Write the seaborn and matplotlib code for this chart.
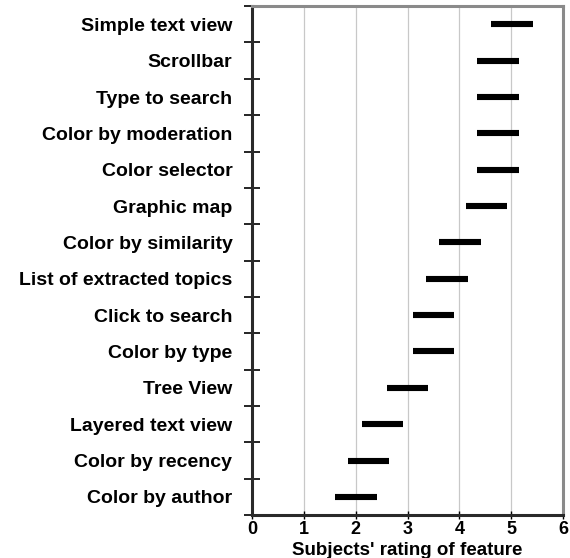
import pandas as pd
import numpy as np
import matplotlib
matplotlib.use("Agg")
import matplotlib.pyplot as plt
import seaborn as sns

# Feature names (top to bottom) and rating ranges
features = [
    "Simple text view",
    "Scrollbar",
    "Type to search",
    "Color by moderation",
    "Color selector",
    "Graphic map",
    "Color by similarity",
    "List of extracted topics",
    "Click to search",
    "Color by type",
    "Tree View",
    "Layered text view",
    "Color by recency",
    "Color by author",
]
range_low = [4.60, 4.34, 4.34, 4.34, 4.34, 4.12, 3.60, 3.35, 3.10, 3.10, 2.60, 2.12, 1.86, 1.60]
range_high = [5.41, 5.15, 5.15, 5.15, 5.15, 4.91, 4.41, 4.16, 3.90, 3.90, 3.40, 2.92, 2.65, 2.41]
x_ticks = [0, 1, 2, 3, 4, 5, 6]

sns.set_style("white")
plt.rcParams["font.family"] = ["Liberation Sans", "DejaVu Sans"]
plt.rcParams["font.weight"] = "bold"
plt.rcParams["text.color"] = "black"
plt.rcParams["axes.labelcolor"] = "black"
plt.rcParams["xtick.color"] = "black"
plt.rcParams["ytick.color"] = "black"

df = pd.DataFrame({
    "feature": features * 2,
    "rating": range_low + range_high,
})

fig = plt.figure(figsize=(5.7, 5.58), dpi=100)
ax = fig.add_axes([0.442, 0.077, 0.546, 0.912])

for v in x_ticks[1:-1]:
    ax.axvline(v, color="#c8c8c8", linewidth=0.9, zorder=0)

sns.pointplot(
    data=df,
    x="rating",
    y="feature",
    order=features,
    estimator="mean",
    errorbar=("pi", 100),
    color="black",
    linestyle="none",
    marker="",
    capsize=0,
    err_kws={"linewidth": 4.4, "solid_capstyle": "butt"},
    ax=ax,
)

ax.set_xlim(0, 6)
ax.set_ylim(len(features) - 0.5, -0.5)

ax.tick_params(axis="x", length=6, width=1, direction="inout", bottom=True,
               pad=1, labelsize=13)
ax.tick_params(axis="y", which="minor", length=0, pad=14, labelsize=14)
ax.tick_params(axis="y", which="major", length=12, width=1.2,
               direction="inout", left=True)

ax.set_xticks(x_ticks)
ax.set_xticklabels([str(t) for t in x_ticks], fontsize=13, fontweight="bold")

# category labels at centers (minor), tick marks at boundaries (major)
ax.set_yticks(np.arange(len(features)), minor=True)
ax.set_yticklabels(features, minor=True, fontsize=14, fontweight="bold")
ax.set_yticks(np.arange(len(features) + 1) - 0.5)
ax.set_yticklabels([])

ax.set_ylabel("")
ax.set_xlabel("Subjects' rating of feature", fontsize=13.5, fontweight="bold", labelpad=3)

for side in ["top", "right"]:
    ax.spines[side].set_color("#8a8a8a")
    ax.spines[side].set_linewidth(2.2)
for side in ["left", "bottom"]:
    ax.spines[side].set_color("#2a2a2a")
    ax.spines[side].set_linewidth(2.2)

fig.savefig("out.png", dpi=100)
